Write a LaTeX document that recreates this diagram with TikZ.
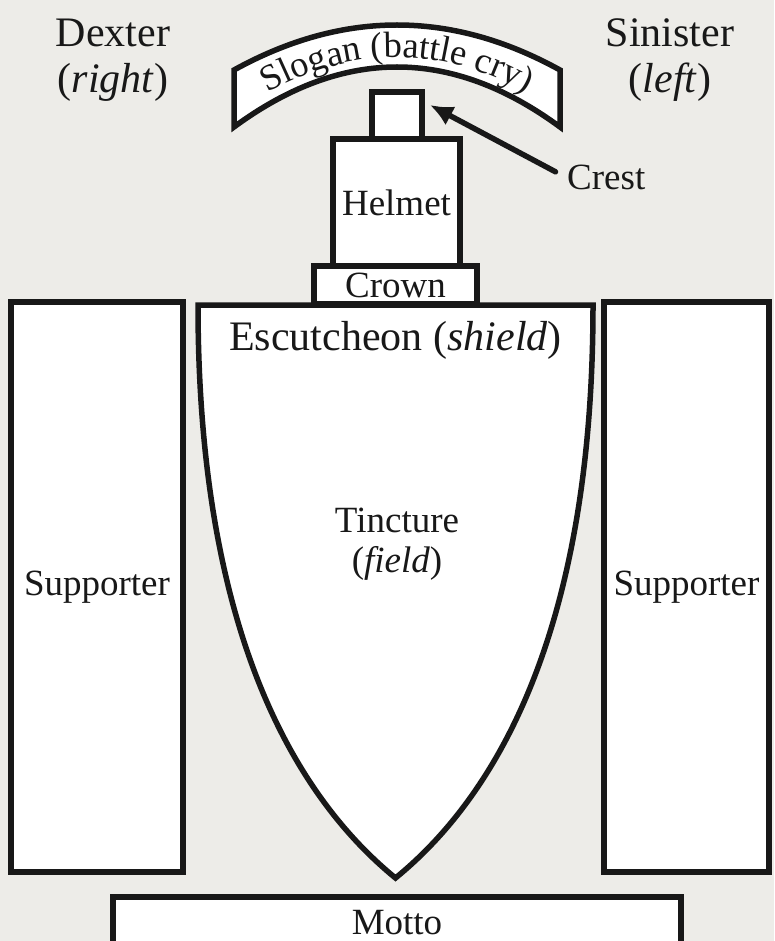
\documentclass[tikz,border=0pt]{standalone}
\usepackage{fontspec}
\setmainfont{Liberation Serif}
\usetikzlibrary{arrows.meta,decorations.text}
\definecolor{bg}{RGB}{237,236,232}
\definecolor{ink}{RGB}{24,24,24}
\newcommand\slg{\fontsize{36.5}{40}\selectfont\color{ink}}

\begin{document}
\begin{tikzpicture}[x=1pt,y=-1pt,
 part/.style={draw=ink,fill=white,line width=5.5pt,inner sep=0pt},
 lbl/.style={text=ink,inner sep=0pt,font=\fontsize{37}{40}\selectfont},
 big/.style={text=ink,inner sep=0pt,font=\fontsize{42}{46}\selectfont,align=center},
 pointer/.style={draw=ink,line width=5.5pt,line cap=round,-{Latex[length=23pt,width=21pt]},shorten <=13pt}]

 \fill[bg] (0,0) rectangle (774,941);
 \clip (0,0) rectangle (774,941);

 % sides
 \node[big] (dex) at (113,60.7) {Dexter\\(\textit{right})};
 \node[big] (sin) at (670,60.5) {Sinister\\(\textit{left})};

 % slogan banner
 \draw[part] (234,70) .. controls (342.7,10) and (451.3,10) .. (560,70) -- (560,127)
  .. controls (451.3,47) and (342.7,47) .. (234,127) -- cycle;
 \path[decorate,decoration={text along path,text align=center,
  text={|\slg|Slogan (battle cry)}}]
  (238,111) .. controls (344,39.5) and (450,39.5) .. (556,111);

 % shield
 \draw[part] (198,305) -- (593,305) .. controls (593,640) and (491,800) .. (395.5,878)
  .. controls (300,800) and (198,640) .. cycle;
 \node[big,anchor=base] (esc) at (395.5,350) {Escutcheon (\textit{shield})};
 \node[lbl,align=center] (tinc) at (397,544) {Tincture\\(\textit{field})};

 % crest, helmet, crown
 \node[part,minimum width=50pt,minimum height=47pt] (crest) at (397,115.5) {};
 \node[part,lbl,minimum width=127pt,minimum height=127pt] (helmet) at (396.5,202.5) {Helmet};
 \node[part,lbl,minimum width=163pt,minimum height=38pt] (crown) at (395.5,285) {Crown};

 % supporters and motto
 \node[part,lbl,minimum width=172pt,minimum height=570pt] (sup_l) at (97,587) {Supporter};
 \node[part,lbl,minimum width=165pt,minimum height=570pt] (sup_r) at (686.5,587) {Supporter};
 \node[part,minimum width=568pt,minimum height=70pt] (motto) at (397,932) {};
 \node[lbl,anchor=base] (motto_t) at (397,934) {Motto};

 \node[lbl,anchor=base west] (crest_t) at (567,190) {Crest};
 \coordinate (tip) at (430,105);
 \draw[pointer] (crest_t.west) -- (tip);
\end{tikzpicture}
\end{document}
